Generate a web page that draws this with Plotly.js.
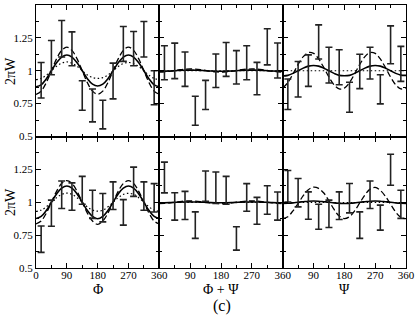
<!DOCTYPE html>
<html>
<head>
<meta charset="utf-8">
<script src="https://cdn.plot.ly/plotly-3.0.1.min.js"></script>
<style>html,body{margin:0;padding:0;background:#fff;}#chart{width:415px;height:318px;}</style>
</head>
<body>
<div id="chart"></div>
<script>
// ---- data ----
const binAngles = [15,45,75,105,135,165,195,225,255,285,315,345];
const curveAngles = [0,15,30,45,60,75,90,105,120,135,150,165,180,195,210,225,240,255,270,285,300,315,330,345,360];

// top row: Phi, Phi+Psi, Psi
const topPhiVal = [0.928,1.100,1.243,1.167,0.812,0.736,0.667,0.922,1.204,1.168,1.239,0.871];
const topPhiErr = [0.135,0.130,0.139,0.129,0.112,0.125,0.109,0.136,0.133,0.130,0.135,0.129];
const topSumVal = [1.061,1.075,1.012,0.696,0.816,1.000,1.086,1.026,1.061,0.941,1.182,1.078];
const topSumErr = [0.129,0.135,0.131,0.110,0.111,0.127,0.129,0.127,0.129,0.123,0.137,0.133];
const topPsiVal = [0.821,0.935,1.001,1.219,1.043,1.027,0.798,0.995,1.058,0.859,1.197,1.052];
const topPsiErr = [0.116,0.135,0.120,0.130,0.136,0.133,0.114,0.131,0.121,0.111,0.144,0.133];

// bottom row
const botPhiVal = [0.719,0.917,1.057,1.043,1.091,0.984,0.959,1.050,0.923,1.156,1.047,1.034];
const botPhiErr = [0.100,0.099,0.105,0.104,0.106,0.107,0.108,0.105,0.097,0.111,0.108,0.108];
const botSumVal = [1.188,0.968,0.976,0.826,1.123,1.110,1.091,0.725,1.037,0.935,1.017,0.971];
const botSumErr = [0.117,0.104,0.107,0.101,0.115,0.120,0.106,0.089,0.105,0.102,0.108,0.107];
const botPsiVal = [1.122,1.073,0.975,0.890,0.912,0.974,1.031,0.826,1.057,0.883,1.247,0.984];
const botPsiErr = [0.120,0.108,0.104,0.095,0.104,0.105,0.112,0.101,0.105,0.095,0.118,0.107];

// model curves (solid, dashed, dotted)
const topPhiSolid  = [0.878,0.893,0.938,1.000,1.060,1.104,1.120,1.104,1.060,1.000,0.940,0.898,0.884,0.898,0.940,1.000,1.060,1.104,1.120,1.104,1.060,1.000,0.938,0.893,0.878];
const topPhiDashed = [0.820,0.845,0.910,1.000,1.090,1.155,1.180,1.155,1.090,1.000,0.910,0.845,0.822,0.845,0.910,1.000,1.090,1.155,1.180,1.155,1.090,1.000,0.910,0.845,0.820];
const topPhiDotted = [0.932,0.942,0.966,1.000,1.034,1.058,1.067,1.058,1.034,1.000,0.968,0.948,0.942,0.948,0.968,1.000,1.032,1.055,1.063,1.055,1.032,1.000,0.966,0.942,0.932];

const topSumSolid  = [0.996,0.997,0.998,1.000,1.003,1.004,1.005,1.004,1.003,1.000,0.998,0.997,0.996,0.997,0.998,1.000,1.003,1.004,1.005,1.004,1.003,1.000,0.998,0.997,0.996];
const topSumDashed = [0.990,0.992,0.996,1.002,1.008,1.012,1.014,1.012,1.008,1.002,0.996,0.992,0.990,0.992,0.996,1.002,1.008,1.012,1.014,1.012,1.008,1.002,0.996,0.992,0.990];
const topSumDotted = [1.000,1.000,1.000,1.000,1.000,1.000,1.000,1.000,1.000,1.000,1.000,1.000,1.000,1.000,1.000,1.000,1.000,1.000,1.000,1.000,1.000,1.000,1.000,1.000,1.000];

const topPsiSolid  = [0.960,0.965,0.980,1.000,1.020,1.035,1.040,1.035,1.020,1.000,0.980,0.965,0.962,0.965,0.980,1.000,1.020,1.035,1.040,1.035,1.020,1.000,0.980,0.967,0.965];
const topPsiDashed = [0.868,0.910,0.976,1.048,1.107,1.138,1.132,1.090,1.024,0.952,0.893,0.862,0.868,0.910,0.976,1.048,1.107,1.138,1.132,1.090,1.024,0.952,0.893,0.862,0.868];
const topPsiDotted = [1.000,1.000,1.000,1.000,1.000,1.000,1.000,1.000,1.000,1.000,1.000,1.000,1.000,1.000,1.000,1.000,1.000,1.000,1.000,1.000,1.000,1.000,1.000,1.000,1.000];

const botPhiSolid  = [0.876,0.892,0.937,1.000,1.063,1.108,1.124,1.108,1.063,1.000,0.937,0.892,0.874,0.892,0.937,1.000,1.063,1.108,1.124,1.108,1.063,1.000,0.937,0.892,0.876];
const botPhiDashed = [0.835,0.857,0.917,1.000,1.083,1.143,1.165,1.143,1.083,1.000,0.917,0.857,0.832,0.857,0.917,1.000,1.083,1.143,1.165,1.143,1.083,1.000,0.917,0.857,0.835];
const botPhiDotted = [0.930,0.940,0.965,1.000,1.035,1.060,1.070,1.060,1.035,1.000,0.965,0.940,0.932,0.940,0.965,1.000,1.035,1.060,1.068,1.060,1.035,1.000,0.965,0.940,0.930];

const botSumSolid  = [0.996,0.996,0.997,0.999,1.001,1.002,1.003,1.002,1.001,0.999,0.997,0.996,0.996,0.996,0.997,0.999,1.001,1.002,1.003,1.002,1.001,0.999,0.997,0.996,0.996];
const botSumDashed = [0.990,0.991,0.995,1.000,1.005,1.009,1.011,1.009,1.005,1.000,0.995,0.991,0.990,0.991,0.995,1.000,1.005,1.009,1.011,1.009,1.005,1.000,0.995,0.991,0.990];
const botSumDotted = [0.998,0.998,0.998,0.998,0.998,0.998,0.998,0.998,0.998,0.998,0.998,0.998,0.998,0.998,0.998,0.998,0.998,0.998,0.998,0.998,0.998,0.998,0.998,0.998,0.998];

const botPsiSolid  = [0.990,0.992,0.995,1.000,1.004,1.008,1.010,1.008,1.004,1.000,0.995,0.992,0.990,0.992,0.995,1.000,1.004,1.008,1.010,1.008,1.004,1.000,0.995,0.992,0.990];
const botPsiDashed = [0.875,0.890,0.935,0.990,1.050,1.095,1.115,1.105,1.070,1.010,0.945,0.895,0.875,0.890,0.935,0.995,1.055,1.100,1.113,1.090,1.045,0.985,0.925,0.885,0.875];
const botPsiDotted = [0.998,0.998,0.998,0.998,0.998,0.998,0.998,0.998,0.998,0.998,0.998,0.998,0.998,0.998,0.998,0.998,0.998,0.998,0.998,0.998,0.998,0.998,0.998,0.998,0.998];

const xLabels = ['Φ', 'Φ + Ψ', 'Ψ'];
const yLabel = '2πW';
const yTickLabels = ['0.5','0.75','1','1.25','1.5'];
const xTickLabels = ['0','90','180','270','360'];

// ---- build ----
const panels = [
  {val: topPhiVal, err: topPhiErr, s: topPhiSolid, d: topPhiDashed, o: topPhiDotted},
  {val: topSumVal, err: topSumErr, s: topSumSolid, d: topSumDashed, o: topSumDotted},
  {val: topPsiVal, err: topPsiErr, s: topPsiSolid, d: topPsiDashed, o: topPsiDotted},
  {val: botPhiVal, err: botPhiErr, s: botPhiSolid, d: botPhiDashed, o: botPhiDotted},
  {val: botSumVal, err: botSumErr, s: botSumSolid, d: botSumDashed, o: botSumDotted},
  {val: botPsiVal, err: botPsiErr, s: botPsiSolid, d: botPsiDashed, o: botPsiDotted}
];

const W = 415, H = 318;
const xEdges = [36, 159.3, 282.7, 406];
const yTop = [5, 136.5], yBot = [136.5, 268];
const fontFam = 'Liberation Serif, Times New Roman, serif';

const traces = [];
panels.forEach((p, i) => {
  const n = i + 1;
  const xa = 'x' + (n === 1 ? '' : n), ya = 'y' + (n === 1 ? '' : n);
  traces.push({x: curveAngles, y: p.o, xaxis: xa, yaxis: ya, mode: 'lines', line: {color: '#000', width: 1.2, dash: '1.5px,2.5px', shape: 'spline', smoothing: 1}, hoverinfo: 'skip'});
  traces.push({x: curveAngles, y: p.d, xaxis: xa, yaxis: ya, mode: 'lines', line: {color: '#000', width: 1.3, dash: '6px,3px', shape: 'spline', smoothing: 1}, hoverinfo: 'skip'});
  traces.push({x: curveAngles, y: p.s, xaxis: xa, yaxis: ya, mode: 'lines', line: {color: '#000', width: 1.6, shape: 'spline', smoothing: 1}, hoverinfo: 'skip'});
  traces.push({x: binAngles, y: p.val, xaxis: xa, yaxis: ya, mode: 'markers', marker: {size: 0.1, color: 'rgba(0,0,0,0)'},
    error_y: {type: 'data', array: p.err, visible: true, color: '#222', thickness: 1.6, width: 3.5}, hoverinfo: 'skip'});
});

const layout = {
  width: W, height: H, showlegend: false,
  margin: {l: 0, r: 0, t: 0, b: 0},
  paper_bgcolor: '#fff', plot_bgcolor: '#fff',
  font: {family: fontFam, size: 11, color: '#000'},
  annotations: []
};

for (let i = 0; i < 6; i++) {
  const n = i + 1, col = i % 3, row = Math.floor(i / 3);
  const xk = 'xaxis' + (n === 1 ? '' : n), yk = 'yaxis' + (n === 1 ? '' : n);
  const yr = row === 0 ? yTop : yBot;
  const bottomRow = row === 1;
  const xvals = col === 0 ? [0,90,180,270,360] : [90,180,270,360];
  const xtext = col === 0 ? xTickLabels : xTickLabels.slice(1);
  layout[xk] = {
    domain: [xEdges[col] / W, xEdges[col + 1] / W],
    anchor: 'y' + (n === 1 ? '' : n), range: [0, 360],
    showline: true, linecolor: '#000', linewidth: 1, mirror: 'allticks',
    showgrid: false, zeroline: false,
    ticks: 'inside', ticklen: 5, tickwidth: 1, tickcolor: '#000',
    tickmode: 'array', tickvals: xvals, ticktext: xtext,
    showticklabels: bottomRow, ticklabelstandoff: -3,
    tickfont: {family: fontFam, size: 11, color: '#000'},
    minor: {tickmode: 'array', tickvals: [45,135,225,315], ticks: 'inside', ticklen: 3, tickwidth: 1, tickcolor: '#000'}
  };
  const yvals = row === 0 ? [0.5,0.75,1,1.25,1.5] : [0.5,0.75,1,1.25];
  layout[yk] = {
    domain: [1 - yr[1] / H, 1 - yr[0] / H],
    anchor: 'x' + (n === 1 ? '' : n), range: [0.5, 1.5],
    showline: true, linecolor: '#000', linewidth: 1, mirror: 'allticks',
    showgrid: false, zeroline: false,
    ticks: 'inside', ticklen: 5, tickwidth: 1, tickcolor: '#000',
    tickmode: 'array', tickvals: yvals, ticktext: yTickLabels.slice(0, yvals.length),
    showticklabels: col === 0,
    tickfont: {family: fontFam, size: 11, color: '#000'},
    minor: {tickmode: 'array', tickvals: [0.625,0.875,1.125,1.375], ticks: 'inside', ticklen: 3, tickwidth: 1, tickcolor: '#000'}
  };
}

// y titles
[[71], [202]].forEach(([yc]) => {
  layout.annotations.push({text: yLabel, xref: 'paper', yref: 'paper', x: 10 / W, y: 1 - yc / H,
    xanchor: 'center', yanchor: 'middle', textangle: -90, showarrow: false, borderpad: 0, font: {family: fontFam, size: 14, color: '#000'}});
});
// x titles
xLabels.forEach((t, c) => {
  layout.annotations.push({text: t, xref: 'paper', yref: 'paper', x: (xEdges[c] + xEdges[c + 1]) / 2 / W, y: 1 - 289 / H,
    xanchor: 'center', yanchor: 'middle', showarrow: false, borderpad: 0, font: {family: fontFam, size: 14, color: '#000'}});
});
layout.annotations.push({text: '(c)', xref: 'paper', yref: 'paper', x: 222 / W, y: 1 - 306 / H,
  xanchor: 'center', yanchor: 'middle', showarrow: false, borderpad: 0, font: {family: fontFam, size: 16, color: '#000'}});

Plotly.newPlot('chart', traces, layout, {staticPlot: true, displayModeBar: false});
</script>
</body>
</html>
